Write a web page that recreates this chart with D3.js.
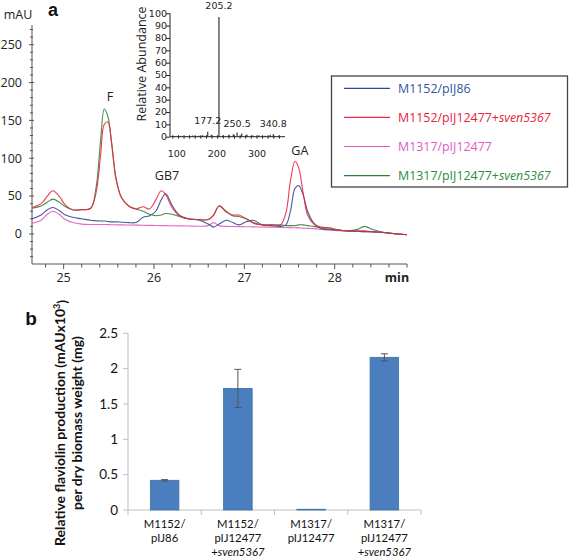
<!DOCTYPE html>
<html><head><meta charset="utf-8">
<script src="https://cdn.jsdelivr.net/npm/d3@7"></script>
<style>body{margin:0;background:#fff}</style>
</head><body><svg id="c" width="572" height="559"></svg>
<script>
// ---------- Panel a: HPLC chromatogram ----------
const retentionTime = [24.65,24.75,24.82,24.88,24.95,25.02,25.1,25.2,25.3,25.36,25.41,25.45,25.49,25.53,25.58,25.64,25.72,25.8,25.88,25.95,26.02,26.08,26.13,26.2,26.28,26.38,26.5,26.6,26.66,26.72,26.8,26.87,26.94,27.02,27.1,27.2,27.3,27.4,27.46,27.51,27.56,27.6,27.65,27.7,27.77,27.85,27.95,28.05,28.15,28.25,28.33,28.42,28.55,28.7,28.8];
const absM1152_pIJ86 = [20,25,32,35,31,25,22,20,18,17.5,17,17,16.5,16,16,15.5,15,15,22,24,30,45,53,38,25,20,18,13,9,13,18,15,12,16,18,12,11,10,12,30,60,64,52,30,14,7,6,5,4,3.5,3,3,1.5,0,-1];
const absM1152_sven = [35,40,50,57,50,38,32,32,34,55,105,145,148,120,72,48,37,33,36,33,45,57,52,35,24,20,19,19,25,37,29,25,25,20,14,12,12,12,28,70,96,88,55,25,13,9,8,5,4,4,4,3,2,0,-1];
const absM1317_pIJ12477 = [14,18,26,30,26,19,15,13,12.5,12.5,12.5,12.5,12.3,12.2,12,12,11.8,11.7,11.5,11.3,11.2,11,11,10.8,10.6,10.4,10.2,11,15,11,10,9.8,9.7,9.5,9.3,9.1,9,8.7,8.5,8.3,8.1,8,7.7,7.4,7,6,5,4.3,3.8,3.3,2.9,2.4,1.5,0,-1];
const absM1317_sven = [34,37,42,46,42,36,32,32,34,62,125,165,155,122,74,48,37,33,30,26,24,25,27,26,23,20,19,19,25,37,30,24,23,20,15,12,12,12,11,11,11,12,12,11,10,8,6,5,4,6,10,6,2,0,-1];
const seriesNames = ["M1152/pIJ86","M1152/pIJ12477+","M1317/pIJ12477","M1317/pIJ12477+"];
const seriesItalic = ["","sven5367","","sven5367"];
const lineColors = ["#34478e","#e8283c","#e455c0","#2f7f3c"];
const textColors = ["#3552a8","#e8203c","#dd5cbf","#2e8b3a"];
const peakNames = ["F","GB7","GA"];
const peakTimes = [25.47,26.1,27.57];
const absTicks = [0,50,100,150,200,250];
const timeTicks = [25,26,27,28];

// MS inset
const msMz = [95,110,125,140,155,165,177.2,186,205.2,215,230,241,250.5,262,275,290,305,320,333,340.8,355];
const msIntensity = [0.5,0.8,0.6,1,0.7,1.2,4,1.5,97,1,1.5,2,3.5,2.5,1.8,1,1.2,0.8,1.5,2,0.8];
const msLabels = ["177.2","205.2","250.5","340.8"];
const msYTicks = [0,10,20,30,40,50,60,70,80,90,100];
const msXTicks = [100,200,300];

// ---------- Panel b: bar chart ----------
const strainLines = [["M1152/","pIJ86"],["M1152/","pIJ12477","+sven5367"],["M1317/","pIJ12477"],["M1317/","pIJ12477","+sven5367"]];
const flaviolin = [0.42,1.72,0.01,2.16];
const flaviolinErr = [0.01,0.27,0,0.05];
const barTicks = [0,0.5,1,1.5,2,2.5];

const svg = d3.select("#c");
const F1 = "'Open Sans', sans-serif";

// ----- panel a -----
const x = d3.scaleLinear().domain([24.65,28.8]).range([32,407]);
const y = d3.scaleLinear().domain([-39.7,276]).range([264,25]);

svg.append("text").attr("x",18).attr("y",19).attr("text-anchor","middle")
  .attr("font-family",F1).attr("font-size",12.5).attr("fill","#222").text("mAU");
svg.append("text").attr("x",53).attr("y",16).attr("text-anchor","middle")
  .attr("font-family","'Liberation Sans', Arial, sans-serif").attr("font-weight","bold").attr("font-size",18).attr("fill","#111").text("a");

// y axis
const yAxisG = svg.append("g").attr("transform","translate(32,0)");
yAxisG.append("line").attr("x1",0).attr("x2",0).attr("y1",y.range()[1]).attr("y2",264).attr("stroke","#555");
yAxisG.selectAll("line.t").data(d3.range(-30,271,10)).join("line").attr("class","t")
  .attr("x1",d=>d%50===0?-3:-2).attr("x2",d=>d%50===0?2:1).attr("y1",d=>y(d)).attr("y2",d=>y(d))
  .attr("stroke","#555");
yAxisG.selectAll("text").data(absTicks).join("text")
  .attr("x",-10).attr("y",d=>y(d)).attr("dy","0.35em").attr("text-anchor","end")
  .attr("font-family",F1).attr("font-size",12.5).attr("fill","#222").text(d=>d);

// x axis
const xAxisG = svg.append("g").attr("transform","translate(0,264)");
xAxisG.append("line").attr("x1",32).attr("x2",407).attr("stroke","#555");
xAxisG.selectAll("line.t").data(d3.range(24.8,28.81,0.2)).join("line").attr("class","t")
  .attr("x1",d=>x(d)).attr("x2",d=>x(d)).attr("y1",0)
  .attr("y2",d=>Math.abs(d-Math.round(d))<0.01?5:3.5).attr("stroke","#555");
xAxisG.selectAll("text").data(timeTicks).join("text")
  .attr("x",d=>x(d)).attr("y",18).attr("text-anchor","middle")
  .attr("font-family",F1).attr("font-size",12.5).attr("fill","#222").text(d=>d);
xAxisG.append("text").attr("x",397).attr("y",18).attr("text-anchor","middle")
  .attr("font-family",F1).attr("font-weight","bold").attr("font-size",12.5).attr("fill","#222").text("min");

// traces
const traces = [absM1317_pIJ12477, absM1152_pIJ86, absM1317_sven, absM1152_sven];
const traceColorIdx = [2,0,3,1];
const line = d3.line().x((d,i)=>x(retentionTime[i])).y(d=>y(d)).curve(d3.curveCatmullRom.alpha(0.5));
traces.forEach((tr,k)=>{
  svg.append("path").attr("d",line(tr)).attr("fill","none")
    .attr("stroke",lineColors[traceColorIdx[k]]).attr("stroke-width",1.1).attr("opacity",0.9);
});

// peak labels
const allTraces = [absM1152_pIJ86, absM1152_sven, absM1317_pIJ12477, absM1317_sven];
const labelGap = [12,15,11];
peakNames.forEach((nm,k)=>{
  let best=-1e9;
  retentionTime.forEach((t,i)=>{ if(Math.abs(t-peakTimes[k])<0.08) allTraces.forEach(tr=>{best=Math.max(best,tr[i]);}); });
  svg.append("text").attr("x",x(peakTimes[k])+4).attr("y",y(best)-labelGap[k]).attr("dy","0.35em")
    .attr("text-anchor","middle").attr("font-family",F1).attr("font-size",12.5).attr("fill","#222").text(nm);
});

// legend
const lg = svg.append("g");
lg.append("rect").attr("x",331.5).attr("y",76).attr("width",236).attr("height",111)
  .attr("fill","#fff").attr("stroke","#444").attr("stroke-width",1.3);
seriesNames.forEach((nm,i)=>{
  const yy = 88.3 + i*29.1;
  lg.append("line").attr("x1",344).attr("x2",390).attr("y1",yy).attr("y2",yy)
    .attr("stroke",lineColors[i]).attr("stroke-width",1.2);
  const t = lg.append("text").attr("x",398).attr("y",yy).attr("dy","0.35em")
    .attr("font-family",F1).attr("font-size",12.4).attr("fill",textColors[i]);
  t.append("tspan").text(nm);
  if(seriesItalic[i]) t.append("tspan").attr("font-style","italic").text(seriesItalic[i]);
});

// ----- MS inset -----
const F2 = "'DejaVu Sans', Verdana, sans-serif";
const mx = d3.scaleLinear().domain([83,370]).range([170,285]);
const my = d3.scaleLinear().domain([0,100]).range([136.7,13.3]);
const ms = svg.append("g");
ms.append("line").attr("x1",170).attr("x2",170).attr("y1",my(100)).attr("y2",my(0)).attr("stroke","#222");
ms.append("line").attr("x1",170).attr("x2",285).attr("y1",my(0)).attr("y2",my(0)).attr("stroke","#222");
ms.selectAll("line.yt").data(msYTicks).join("line").attr("class","yt")
  .attr("x1",166).attr("x2",170).attr("y1",d=>my(d)+0.5).attr("y2",d=>my(d)+0.5).attr("stroke","#222");
ms.selectAll("text.yt").data(msYTicks).join("text").attr("class","yt")
  .attr("x",167).attr("y",d=>my(d)).attr("dy","0.35em").attr("text-anchor","end")
  .attr("font-family",F2).attr("font-size",9.5).attr("fill","#222").text(d=>d);
ms.selectAll("line.xt").data(d3.range(90,370,14)).join("line").attr("class","xt")
  .attr("x1",d=>mx(d)).attr("x2",d=>mx(d)).attr("y1",my(0)-1.5).attr("y2",my(0)+2).attr("stroke","#222");
ms.selectAll("text.xt").data(msXTicks).join("text").attr("class","xt")
  .attr("x",d=>mx(d)).attr("y",154).attr("dy","0.35em").attr("text-anchor","middle")
  .attr("font-family",F2).attr("font-size",9.5).attr("fill","#222").text(d=>d);
ms.selectAll("line.pk").data(msMz).join("line").attr("class","pk")
  .attr("x1",d=>mx(d)).attr("x2",d=>mx(d)).attr("y1",my(0)).attr("y2",(d,i)=>my(msIntensity[i]))
  .attr("stroke","#222").attr("stroke-width",1.1);
msLabels.forEach(lb=>{
  const mz = +lb; const i = msMz.indexOf(mz);
  const big = msIntensity[i] > 50;
  ms.append("text").attr("x",mx(mz)).attr("y",big? my(msIntensity[i])-11 : (mz<200? 120.5:124))
    .attr("dy","0.35em").attr("text-anchor","middle")
    .attr("font-family",F2).attr("font-size",9.5).attr("fill","#222").text(lb);
});
ms.append("text").attr("transform","translate(142,64) rotate(-90)").attr("text-anchor","middle")
  .attr("dy","0.35em").attr("font-family",F1).attr("font-size",12.5).attr("fill","#222").text("Relative Abundance");

// ----- panel b -----
const F3 = "Lato, 'Open Sans', sans-serif";
svg.append("text").attr("x",31).attr("y",325).attr("text-anchor","middle")
  .attr("font-family","'Liberation Sans', Arial, sans-serif").attr("font-weight","bold").attr("font-size",19).attr("fill","#111").text("b");

const bx = d3.scaleBand().domain(d3.range(4)).range([128,421]).paddingInner(0.61).paddingOuter(0.305);
const by = d3.scaleLinear().domain([0,2.5]).range([510,333.3]);
const bg = svg.append("g");
bg.append("line").attr("x1",128).attr("x2",128).attr("y1",by(2.5)).attr("y2",by(0)).attr("stroke","#bfbfbf");
bg.append("line").attr("x1",128).attr("x2",421).attr("y1",by(0)).attr("y2",by(0)).attr("stroke","#bfbfbf");
bg.selectAll("line.yt").data(barTicks).join("line").attr("class","yt")
  .attr("x1",123).attr("x2",128).attr("y1",d=>by(d)).attr("y2",d=>by(d)).attr("stroke","#bfbfbf");
bg.selectAll("text.yt").data(barTicks).join("text").attr("class","yt")
  .attr("x",118).attr("y",d=>by(d)).attr("dy","0.35em").attr("text-anchor","end")
  .attr("font-family",F3).attr("font-size",13.5).attr("fill","#111").text(d=>d);
const step = bx.step();
bg.selectAll("line.xt").data(d3.range(5)).join("line").attr("class","xt")
  .attr("x1",d=>128+d*step).attr("x2",d=>128+d*step).attr("y1",by(0)).attr("y2",by(0)+5).attr("stroke","#bfbfbf");
bg.selectAll("rect.bar").data(flaviolin).join("rect").attr("class","bar")
  .attr("x",(d,i)=>bx(i)).attr("width",bx.bandwidth()).attr("y",d=>by(d)).attr("height",d=>by(0)-by(d))
  .attr("fill","#4a7ebf").attr("stroke","#3f6fa8").attr("stroke-width",0.8);
flaviolin.forEach((v,i)=>{
  if(flaviolinErr[i]<=0) return;
  const cx = bx(i)+bx.bandwidth()/2;
  const e = flaviolinErr[i];
  const g = bg.append("g").attr("stroke","#555").attr("stroke-width",1);
  g.append("line").attr("x1",cx).attr("x2",cx).attr("y1",by(v+e)).attr("y2",by(v-e));
  g.append("line").attr("x1",cx-3.5).attr("x2",cx+3.5).attr("y1",by(v+e)).attr("y2",by(v+e));
  g.append("line").attr("x1",cx-3.5).attr("x2",cx+3.5).attr("y1",by(v-e)).attr("y2",by(v-e));
});
strainLines.forEach((lines,i)=>{
  const cx = bx(i)+bx.bandwidth()/2;
  lines.forEach((s,j)=>{
    const t = bg.append("text").attr("x",cx).attr("y",524.5+j*13.6).attr("dy","0.35em").attr("text-anchor","middle")
      .attr("font-family",F3).attr("font-size",11.3).attr("fill","#111");
    if(s.startsWith("+")){ t.append("tspan").text("+"); t.append("tspan").attr("font-style","italic").text(s.slice(1)); }
    else t.text(s);
  });
});
const yt = bg.append("text").attr("transform","translate(60,423) rotate(-90)").attr("text-anchor","middle")
  .attr("font-family",F3).attr("font-weight","bold").attr("font-size",14).attr("fill","#111");
yt.append("tspan").attr("dy","0.35em").text("Relative flaviolin production (mAUx10");
yt.append("tspan").attr("font-size",9).attr("dy","-0.5em").text("3");
yt.append("tspan").attr("dy","0.45em").text(")");
bg.append("text").attr("transform","translate(77,423) rotate(-90)").attr("text-anchor","middle").attr("dy","0.35em")
  .attr("font-family",F3).attr("font-weight","bold").attr("font-size",14).attr("fill","#111").text("per dry biomass weight (mg)");
</script></body></html>
